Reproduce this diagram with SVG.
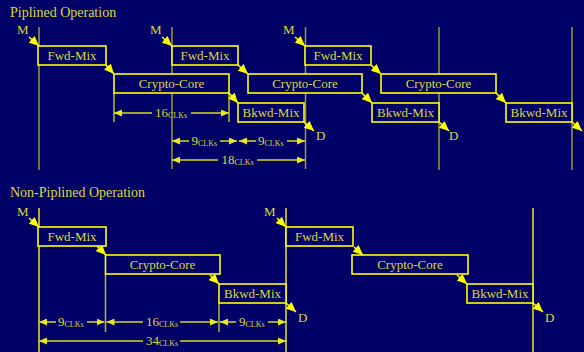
<svg xmlns="http://www.w3.org/2000/svg" width="584" height="352" viewBox="0 0 584 352">
<style>
text{font-family:"Liberation Serif","Times New Roman",serif;fill:#DADA3C}
.t{font-size:14px}
.l{font-size:13px}
.c{text-anchor:middle}
.s{font-size:8px}
.box{fill:#000066;stroke:#FFFF00;stroke-width:1.6}
.vo{stroke:#9A9A3A;stroke-width:1.5}
.vy{stroke:#E6E628;stroke-width:1.5}
.ext{stroke:#B8B830;stroke-width:1.5}
.dim{stroke:#D8D820;stroke-width:1.5;marker-end:url(#da)}
.arr{stroke:#FFFF00;stroke-width:1.5;marker-end:url(#ca)}
</style>
<defs>
<marker id="ca" markerUnits="userSpaceOnUse" markerWidth="11" markerHeight="9" refX="10" refY="4.5" orient="auto"><path d="M0,0 L10,4.5 L0,9 z" fill="#FFFF00"/></marker>
<marker id="da" markerUnits="userSpaceOnUse" markerWidth="9" markerHeight="7" refX="8" refY="3.5" orient="auto"><path d="M0,0 L8,3.5 L0,7 z" fill="#E8E820"/></marker>
</defs>
<rect width="584" height="352" fill="#000066"/>
<text class="t" x="10" y="17">Piplined Operation</text>
<text class="t" x="10" y="197">Non-Piplined Operation</text>
<g id="gridlines">
<line class="vo" x1="39" y1="27" x2="39" y2="170"/>
<line class="vo" x1="172" y1="27" x2="172" y2="169"/>
<line class="vo" x1="305.5" y1="27" x2="305.5" y2="169"/>
<line class="vo" x1="439" y1="27" x2="439" y2="170"/>
<line class="vo" x1="572" y1="27" x2="572" y2="170"/>
<line class="ext" x1="114" y1="93" x2="114" y2="122"/>
<line class="ext" x1="229" y1="93" x2="229" y2="122"/>
<line class="vy" x1="39" y1="208" x2="39" y2="352"/>
<line class="vy" x1="286" y1="208" x2="286" y2="352"/>
<line class="vy" x1="533" y1="208" x2="533" y2="352"/>
<line class="ext" x1="105.5" y1="274" x2="105.5" y2="332"/>
<line class="ext" x1="219" y1="303" x2="219" y2="332"/>
</g>
<g id="connectors">
<line class="arr" x1="29" y1="37" x2="39" y2="46"/>
<line class="arr" x1="106" y1="65" x2="114" y2="74"/>
<line class="arr" x1="229" y1="93" x2="238" y2="103"/>
<line class="arr" x1="304" y1="122" x2="314" y2="131"/>
<line class="arr" x1="162" y1="37" x2="172" y2="46"/>
<line class="arr" x1="238" y1="65" x2="248" y2="74"/>
<line class="arr" x1="362" y1="93" x2="372" y2="103"/>
<line class="arr" x1="439" y1="122" x2="449" y2="131"/>
<line class="arr" x1="295" y1="37" x2="305" y2="46"/>
<line class="arr" x1="371" y1="65" x2="381" y2="74"/>
<line class="arr" x1="496" y1="93" x2="506" y2="103"/>
<line class="arr" x1="572" y1="122" x2="582" y2="131"/>
<line class="arr" x1="29" y1="218" x2="39" y2="227"/>
<line class="arr" x1="97" y1="246" x2="106" y2="255"/>
<line class="arr" x1="210" y1="275" x2="219" y2="284"/>
<line class="arr" x1="286" y1="303" x2="296" y2="312"/>
<line class="arr" x1="277" y1="218" x2="286" y2="227"/>
<line class="arr" x1="354" y1="247" x2="363" y2="255"/>
<line class="arr" x1="457" y1="275" x2="467" y2="284"/>
<line class="arr" x1="533" y1="303" x2="543" y2="312"/>
</g>
<g id="pipe1">
<text class="l" x="17" y="34">M</text>
<g id="fwd1"><rect class="box" x="38" y="46" width="68" height="19"/><text class="l c" x="72" y="59.5">Fwd-Mix</text></g>
<g id="core1"><rect class="box" x="114" y="74" width="115" height="19"/><text class="l c" x="171.5" y="88">Crypto-Core</text></g>
<g id="bkwd1"><rect class="box" x="238" y="103" width="66" height="19"/><text class="l c" x="271" y="117">Bkwd-Mix</text></g>
<text class="l" x="316" y="140">D</text>
</g>
<g id="pipe2">
<text class="l" x="150" y="34">M</text>
<g id="fwd2"><rect class="box" x="172" y="46" width="66" height="19"/><text class="l c" x="205" y="59.5">Fwd-Mix</text></g>
<g id="core2"><rect class="box" x="248" y="74" width="114" height="19"/><text class="l c" x="305" y="88">Crypto-Core</text></g>
<g id="bkwd2"><rect class="box" x="372" y="103" width="67" height="19"/><text class="l c" x="405.5" y="117">Bkwd-Mix</text></g>
<text class="l" x="449" y="140">D</text>
</g>
<g id="pipe3">
<text class="l" x="283" y="34">M</text>
<g id="fwd3"><rect class="box" x="305" y="46" width="66" height="19"/><text class="l c" x="338" y="59.5">Fwd-Mix</text></g>
<g id="core3"><rect class="box" x="381" y="74" width="115" height="19"/><text class="l c" x="438.5" y="88">Crypto-Core</text></g>
<g id="bkwd3"><rect class="box" x="506" y="103" width="66" height="19"/><text class="l c" x="539" y="117">Bkwd-Mix</text></g>
<text class="l" x="583" y="140">D</text>
</g>
<g id="np1">
<text class="l" x="17" y="216">M</text>
<g id="nfwd1"><rect class="box" x="38" y="227" width="68" height="19"/><text class="l c" x="72" y="240.5">Fwd-Mix</text></g>
<g id="ncore1"><rect class="box" x="105.5" y="255" width="114.5" height="19"/><text class="l c" x="162.5" y="269">Crypto-Core</text></g>
<g id="nbkwd1"><rect class="box" x="219" y="284" width="67" height="19"/><text class="l c" x="252.5" y="298">Bkwd-Mix</text></g>
<text class="l" x="298" y="322">D</text>
</g>
<g id="np2">
<text class="l" x="264" y="216">M</text>
<g id="nfwd2"><rect class="box" x="286" y="227" width="67" height="19"/><text class="l c" x="319.5" y="240.5">Fwd-Mix</text></g>
<g id="ncore2"><rect class="box" x="352" y="255" width="116" height="19"/><text class="l c" x="410" y="269">Crypto-Core</text></g>
<g id="nbkwd2"><rect class="box" x="467" y="284" width="66" height="19"/><text class="l c" x="500" y="298">Bkwd-Mix</text></g>
<text class="l" x="545" y="322">D</text>
</g>
<g id="dimensions">
<line class="dim" x1="152" y1="113" x2="114" y2="113"/>
<line class="dim" x1="191" y1="113" x2="229" y2="113"/>
<text class="l" x="155" y="117">16<tspan class="s" dy="1">CLKs</tspan></text>
<line class="dim" x1="189" y1="141" x2="172" y2="141"/>
<line class="dim" x1="220" y1="141" x2="237" y2="141"/>
<text class="l" x="191.5" y="145">9<tspan class="s" dy="1">CLKs</tspan></text>
<line class="dim" x1="256" y1="141" x2="239" y2="141"/>
<line class="dim" x1="287" y1="141" x2="305" y2="141"/>
<text class="l" x="258" y="145">9<tspan class="s" dy="1">CLKs</tspan></text>
<line class="dim" x1="218" y1="160" x2="172" y2="160"/>
<line class="dim" x1="257" y1="160" x2="305" y2="160"/>
<text class="l" x="221.5" y="164">18<tspan class="s" dy="1">CLKs</tspan></text>
<line class="dim" x1="56" y1="322" x2="39" y2="322"/>
<line class="dim" x1="87" y1="322" x2="104.5" y2="322"/>
<text class="l" x="58" y="326">9<tspan class="s" dy="1">CLKs</tspan></text>
<line class="dim" x1="143" y1="322" x2="106.5" y2="322"/>
<line class="dim" x1="180" y1="322" x2="218" y2="322"/>
<text class="l" x="146" y="326">16<tspan class="s" dy="1">CLKs</tspan></text>
<line class="dim" x1="236" y1="322" x2="220" y2="322"/>
<line class="dim" x1="268" y1="322" x2="286" y2="322"/>
<text class="l" x="239" y="326">9<tspan class="s" dy="1">CLKs</tspan></text>
<line class="dim" x1="143" y1="341" x2="39" y2="341"/>
<line class="dim" x1="180" y1="341" x2="286" y2="341"/>
<text class="l" x="146" y="345">34<tspan class="s" dy="1">CLKs</tspan></text>
</g>
</svg>
